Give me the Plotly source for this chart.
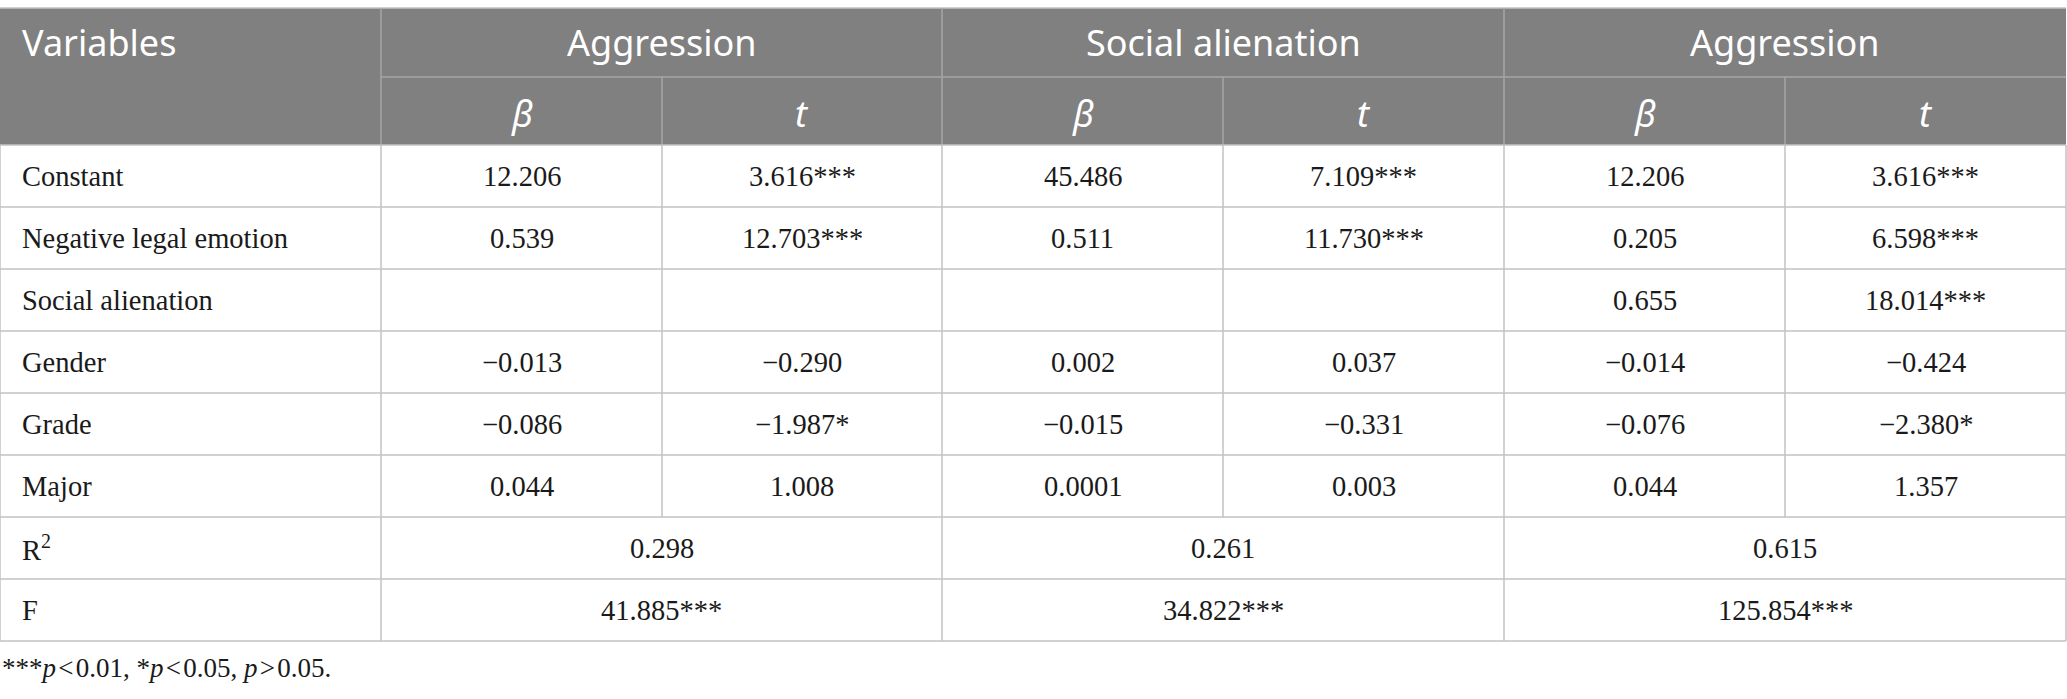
import plotly.graph_objects as go

# table contents
groups = ["Aggression", "Social alienation", "Aggression"]
sub_heads = ["β", "t"]
row_labels = ["Constant", "Negative legal emotion", "Social alienation",
              "Gender", "Grade", "Major"]
agg1_beta = ["12.206", "0.539", "", "−0.013", "−0.086", "0.044"]
agg1_t = ["3.616***", "12.703***", "", "−0.290", "−1.987*", "1.008"]
soc_beta = ["45.486", "0.511", "", "0.002", "−0.015", "0.0001"]
soc_t = ["7.109***", "11.730***", "", "0.037", "−0.331", "0.003"]
agg2_beta = ["12.206", "0.205", "0.655", "−0.014", "−0.076", "0.044"]
agg2_t = ["3.616***", "6.598***", "18.014***", "−0.424", "−2.380*", "1.357"]
r2_vals = ["0.298", "0.261", "0.615"]
f_vals = ["41.885***", "34.822***", "125.854***"]
footnote = ("***<i>p</i>\u200a&lt;\u200a0.01, *<i>p</i>\u200a&lt;\u200a0.05, "
            "<i>p</i>\u200a&gt;\u200a0.05.")

W, H = 2067, 699
col_edges = [0, 381, 662, 942, 1223, 1504, 1785, 2066]
top = 8
head_mid = 77
head_bot = 145
row_h = 62

HEAD_BG = "#808080"
HEAD_LINE = "#a6a6a6"
BODY_LINE = "#c2c2c2"
SANS = "Noto Sans"
SERIF = "Liberation Serif"

fig = go.Figure()
shapes = []
ann = []


def hline(y, x0, x1, color):
    shapes.append(dict(type="line", x0=x0, x1=x1, y0=y, y1=y,
                       line=dict(color=color, width=1.5)))


def vline(x, y0, y1, color):
    shapes.append(dict(type="line", x0=x, x1=x, y0=y0, y1=y1,
                       line=dict(color=color, width=1.5)))


def text(x, y, s, font, size, color="#1a1a1a", align="center"):
    if not s:
        return  # blank cell
    ann.append(dict(x=x, y=y, text=s, showarrow=False, xanchor=align,
                    yanchor="middle", font=dict(family=font, size=size, color=color)))


# header block
shapes.append(dict(type="rect", x0=0, x1=col_edges[-1], y0=top, y1=head_bot,
                   fillcolor=HEAD_BG, line=dict(width=0), layer="below"))
hline(top, 0, col_edges[-1], BODY_LINE)
hline(head_mid, col_edges[1], col_edges[-1], HEAD_LINE)
for i in [1, 3, 5]:
    vline(col_edges[i], top, head_bot, HEAD_LINE)
for i in [2, 4, 6]:
    vline(col_edges[i], head_mid, head_bot, HEAD_LINE)

text(20, (top + head_mid) / 2, "Variables", SANS, 36, "white", "left")
for g, name in enumerate(groups):
    xc = (col_edges[1 + 2 * g] + col_edges[3 + 2 * g]) / 2
    text(xc, (top + head_mid) / 2, name, SANS, 36, "white")
    for k, sh in enumerate(sub_heads):
        xs = (col_edges[1 + 2 * g + k] + col_edges[2 + 2 * g + k]) / 2
        text(xs, (head_mid + head_bot) / 2 + 2, "<i>" + sh + "</i>", SANS, 36, "white")

# body rows
columns = [agg1_beta, agg1_t, soc_beta, soc_t, agg2_beta, agg2_t]
n_rows = len(row_labels) + 2
body_bot = head_bot + n_rows * row_h
split_bot = head_bot + len(row_labels) * row_h

for r in range(n_rows + 1):
    hline(head_bot + r * row_h, 0, col_edges[-1], BODY_LINE)
for i in [0, 1, 3, 5, 7]:
    vline(col_edges[i], head_bot, body_bot, BODY_LINE)
for i in [2, 4, 6]:
    vline(col_edges[i], head_bot, split_bot, BODY_LINE)

for r, lab in enumerate(row_labels):
    yc = head_bot + r * row_h + row_h / 2
    text(20, yc, lab, SERIF, 28.5, align="left")
    for c, col in enumerate(columns):
        xc = (col_edges[1 + c] + col_edges[2 + c]) / 2
        text(xc, yc, col[r], SERIF, 28.5)

for r, (lab, vals) in enumerate([("R<sup>2</sup>", r2_vals), ("F", f_vals)]):
    yc = split_bot + r * row_h + row_h / 2
    text(20, yc, lab, SERIF, 28.5, align="left")
    for g, v in enumerate(vals):
        xc = (col_edges[1 + 2 * g] + col_edges[3 + 2 * g]) / 2
        text(xc, yc, v, SERIF, 28.5)

text(0, body_bot + 27, footnote, SERIF, 27, align="left")

fig.update_layout(
    width=W, height=H,
    margin=dict(l=0, r=0, t=0, b=0),
    paper_bgcolor="white", plot_bgcolor="white",
    xaxis=dict(range=[0, W], visible=False, fixedrange=True),
    yaxis=dict(range=[H, 0], visible=False, fixedrange=True),
    shapes=shapes, annotations=ann, showlegend=False,
)

fig.write_html("out.html", config={"displayModeBar": False},
               post_script="document.body.style.margin='0';"
                           "document.body.style.overflow='hidden';")
